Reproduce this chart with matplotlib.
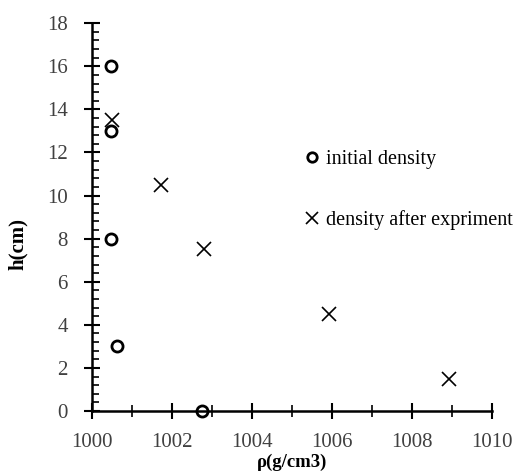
import matplotlib
matplotlib.use("Agg")
import matplotlib.pyplot as plt
from matplotlib.ticker import MultipleLocator

plt.rcParams['font.family'] = ['Liberation Serif', 'DejaVu Serif']

initial_x = [1000.47, 1000.47, 1000.47, 1000.63, 1002.74]
initial_y = [16, 13, 8, 3, 0]
after_x = [1000.5, 1001.72, 1002.8, 1005.93, 1008.93]
after_y = [13.5, 10.5, 7.5, 4.5, 1.5]
labels = ["initial density", "density after expriment"]

fig = plt.figure(figsize=(5.2, 4.73), dpi=100)
ax = fig.add_axes([0.177, 0.131, 0.769, 0.820])

ax.plot(initial_x, initial_y, linestyle='none', marker='o', markersize=8,
        markerfacecolor='none', markeredgecolor='black', markeredgewidth=2,
        label=labels[0], clip_on=False, zorder=3)
ax.plot(after_x, after_y, linestyle='none', marker='x', markersize=9.5,
        color='black', markeredgewidth=1.2, label=labels[1], clip_on=False, zorder=3)

ax.set_xlim(1000, 1010)
ax.set_ylim(0, 18)
ax.xaxis.set_major_locator(MultipleLocator(2))
ax.xaxis.set_minor_locator(MultipleLocator(1))
ax.yaxis.set_major_locator(MultipleLocator(2))
ax.yaxis.set_minor_locator(MultipleLocator(0.4))

for s in ['top', 'right']:
    ax.spines[s].set_visible(False)
for s in ['left', 'bottom']:
    ax.spines[s].set_linewidth(1.8)

ax.tick_params(axis='both', which='major', direction='inout', length=11, width=1.5,
               labelsize=15, labelcolor='#404040')
ax.tick_params(axis='y', which='major', pad=12)
ax.tick_params(axis='x', which='major', pad=10.5)
ax.tick_params(axis='x', which='minor', direction='inout', length=8, width=1.2)
ax.tick_params(axis='y', which='minor', direction='in', length=5, width=1.2)

ax.set_xlabel('ρ(g/cm3)', fontsize=13.5, fontweight='bold')
ax.set_ylabel('h(cm)', fontsize=15, fontweight='bold')
ax.xaxis.set_label_coords(0.5, -0.111, transform=ax.transAxes)
ax.yaxis.set_label_coords(28 / 520, 1 - 244 / 473, transform=fig.transFigure)

ax.legend(loc='upper left', bbox_to_anchor=(0.589, 0.683), bbox_transform=fig.transFigure,
          frameon=False, fontsize=14.5, handlelength=0.6, handletextpad=0.4,
          labelspacing=2.05, borderaxespad=0, borderpad=0, markerscale=0.85)

fig.savefig('out.png', dpi=100)
